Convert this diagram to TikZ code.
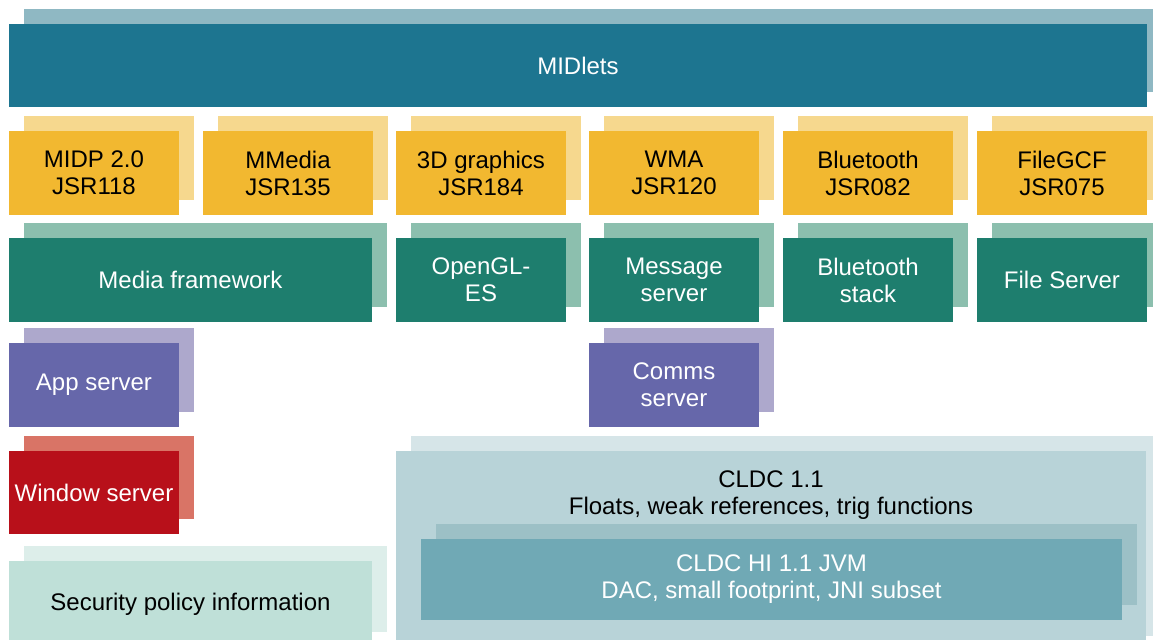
\documentclass[tikz,border=0pt]{standalone}
\usepackage{fontspec}
\setmainfont{Liberation Sans}
\definecolor{midF}{HTML}{1D7590}\definecolor{midS}{HTML}{8FB8C3}
\definecolor{yelF}{HTML}{F2B830}\definecolor{yelS}{HTML}{F6D88E}
\definecolor{grnF}{HTML}{1E7E6E}\definecolor{grnS}{HTML}{8CBFAE}
\definecolor{purF}{HTML}{6667AA}\definecolor{purS}{HTML}{ADA8CC}
\definecolor{redF}{HTML}{B8101A}\definecolor{redS}{HTML}{D97466}
\definecolor{secF}{HTML}{BFE0D8}\definecolor{secS}{HTML}{DDEEEA}
\definecolor{cldF}{HTML}{B8D3D8}\definecolor{cldS}{HTML}{D6E5E8}
\definecolor{jvmF}{HTML}{70A9B5}\definecolor{jvmS}{HTML}{9CC0C6}
\tikzset{
  blockbase/.style={anchor=north west, inner sep=0pt, outer sep=0pt, align=center,
    font=\fontsize{12}{13.5}\selectfont},
  mid/.style={blockbase, fill=midF, text=white},
  yel/.style={blockbase, fill=yelF, text=black},
  grn/.style={blockbase, fill=grnF, text=white},
  pur/.style={blockbase, fill=purF, text=white},
  red/.style={blockbase, fill=redF, text=white},
  sec/.style={blockbase, fill=secF, text=black},
  cld/.style={blockbase, fill=cldF, text=black},
  jvm/.style={blockbase, fill=jvmF, text=white},
  plaintext/.style={inner sep=0pt, align=center, font=\fontsize{12}{13.5}\selectfont},
}
% #1 name, #2 x, #3 y (top), #4 width, #5 height, #6 style, #7 text
\newcommand\blk[7]{%
  \fill[#6S] (#2+15,#3-15) rectangle ++(#4,#5);
  \node[#6, minimum width=#4*0.5pt, minimum height=#5*0.5pt] (#1) at (#2,#3) {#7};}
\begin{document}
\begin{tikzpicture}[x=0.5pt,y=-0.5pt]
\useasboundingbox (0,0) rectangle (1153,640);
\clip (0,0) rectangle (1153,640);
\blk{midlets}{9}{24}{1138}{83}{mid}{MIDlets}
% row of JSRs
\blk{midp}{9}{131}{170}{84}{yel}{MIDP 2.0\\JSR118}
\blk{mmedia}{203}{131}{170}{84}{yel}{MMedia\\JSR135}
\blk{threed}{396}{131}{170}{84}{yel}{3D graphics\\JSR184}
\blk{wma}{589}{131}{170}{84}{yel}{WMA\\JSR120}
\blk{bt}{783}{131}{170}{84}{yel}{Bluetooth\\JSR082}
\blk{filegcf}{977}{131}{170}{84}{yel}{FileGCF\\JSR075}
% row of servers
\blk{media}{9}{238}{363}{84}{grn}{Media framework}
\blk{opengl}{396}{238}{170}{84}{grn}{OpenGL-\\ES}
\blk{msg}{589}{238}{170}{84}{grn}{Message\\server}
\blk{btstack}{783}{238}{170}{84}{grn}{Bluetooth\\stack}
\blk{filesrv}{977}{238}{170}{84}{grn}{File Server}
% lower
\blk{app}{9}{343}{170}{84}{pur}{App server}
\blk{comms}{589}{343}{170}{84}{pur}{Comms\\server}
\blk{win}{9}{451}{170}{83}{red}{Window server}
\blk{sec}{9}{561}{363}{86}{sec}{Security policy information}
\blk{cldc}{396}{451}{750}{200}{cld}{}
\node[plaintext] (cldctext) at (771,495) {CLDC 1.1\\Floats, weak references, trig functions};
\blk{jvm}{421}{539}{701}{81}{jvm}{CLDC HI 1.1 JVM\\DAC, small footprint, JNI subset}
\end{tikzpicture}
\end{document}
